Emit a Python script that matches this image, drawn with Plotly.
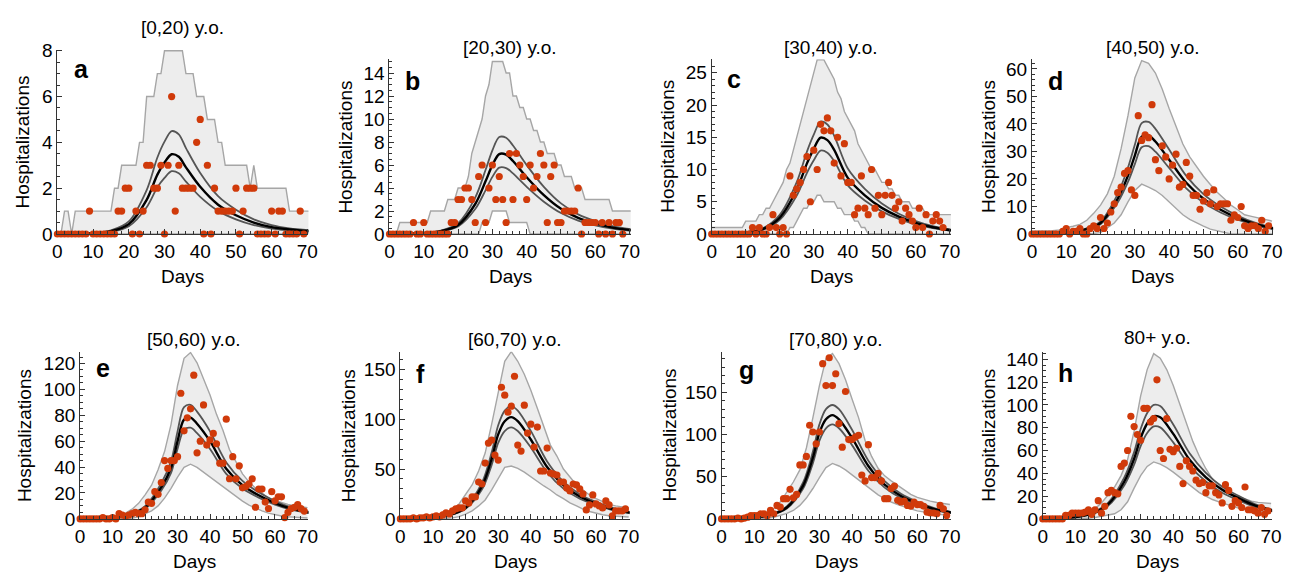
import plotly.graph_objects as go

# ---------------- data ----------------
DAYS = list(range(70))
BAND_DAYS_DAILY = list(range(72))
BAND_DAYS_EVEN = list(range(0, 71, 2))
CURVE_DAYS = [0, 5, 10, 15, 20, 25, 28, 30, 32, 34, 36, 40, 45, 50, 55, 60, 65, 71]

TITLES = ["[0,20) y.o.", "[20,30) y.o.", "[30,40) y.o.", "[40,50) y.o.",
          "[50,60) y.o.", "[60,70) y.o.", "[70,80) y.o.", "80+ y.o."]
LETTERS = ["a", "b", "c", "d", "e", "f", "g", "h"]
Y_TICK_STEP = [2, 2, 5, 10, 20, 50, 50, 20]
Y_MINOR_STEP = [0.5, 0.5, 1, 2, 5, 10, 10, 5]
Y_MAX = [8.05, 15.2, 27.1, 63.5, 129, 167.5, 198, 146.6]

# observed daily hospitalizations (days 0..69)
OBS_A = [0,0,0,0,0,0,0,0,0,1, 0,0,0,0,0,0,0,1,1,2, 2,0,1,0,1,3,3,2,2,3,
         0,3,6,1,3,2,2,2,2,4, 5,0,3,0,2,1,1,1,1,1, 2,0,1,2,2,2,0,0,0,0,
         1,0,1,1,0,0,0,0,1,0]
OBS_B = [0,0,0,0,0,0,0,1,0,0, 1,0,0,0,0,0,0,0,1,1, 3,3,4,4,3,1,5,6,1,4,
         6,3,5,3,1,7,3,7,6,5, 3,6,4,5,7,6,1,5,6,1, 1,2,2,2,2,4,0,1,1,1,
         1,0,1,0,1,0,1,1,0,None]
OBS_C = [0,0,0,0,0,0,0,0,0,0, 0,0,1,0,1,0,0,1,3,1, 0,1,0,9,6,7,8,10,12,5,
         13,10,17,16,18,16,11,15,9,14, 8,8,3,4,9,4,3,10,4,6, 3,6,8,6,4,5,2,4,3,2,
         1,4,1,3,0,2,3,2,1,None]
OBS_D = [0,0,0,0,0,0,0,0,0,1, 2,0,1,1,2,0,0,2,3,2, 6,2,4,8,11,15,17,22,23,16,
         14,43,34,36,35,47,27,23,32,28, 20,25,29,17,18,26,21,14,14,9,
         12,15,11,16,10,11,11,11,5,7, 6,10,3,2,3,3,2,5,1,3]
OBS_E = [0,0,0,0,0,0,0,1,0,0, 1,0,4,3,2,3,4,5,4,4, 7,13,12,21,19,28,45,39,45,45,
         48,97,68,78,85,111,51,60,88,57, 61,66,58,43,43,77,31,48,31,41,
         24,25,27,31,9,23,23,13,8,21, 14,17,17,1,5,8,9,11,8,6]
OBS_F = [0,0,0,0,1,0,1,1,2,1, 2,3,2,4,6,5,8,10,11,11, 18,16,22,22,37,35,56,76,79,64,
         59,132,124,107,113,143,74,68,114,86, 95,72,92,48,48,71,46,45,44,37,
         37,31,28,35,34,30,25,9,14,24, 15,13,11,18,14,3,8,8,8,10]
OBS_G = [0,0,0,0,0,1,0,1,2,4, 4,4,6,6,4,10,6,16,14,24, 24,35,25,29,64,64,74,111,103,89,
         103,184,158,191,158,172,113,85,151,94, 94,97,99,52,45,88,49,49,54,45,
         24,24,36,39,22,20,21,16,15,20, 17,17,15,8,7,7,6,16,12,4]
OBS_H = [0,0,0,0,0,0,0,3,3,5, 5,5,5,6,8,4,8,16,5,11, 23,25,23,22,46,49,60,90,81,74,
         69,97,97,85,88,122,60,53,88,61, 59,62,46,31,51,46,42,34,31,32,
         23,29,29,23,21,14,30,25,11,16, 14,10,28,8,8,7,5,10,4,7]

# prediction bands (daily for a-c, every second day for d-h)
A_UP = [0,0,1,1,0,1,1,1,1,1, 1,1,1,1,1,1,2,2,3,3, 3,3,3,4,4,6,6,6,7,7,
        8,8,8,8,8,8,7,7,7,6, 6,6,5,5,5,4,4,3,3,3, 3,3,3,3,2,3,2,2,2,2,
        2,2,2,2,2,1,1,1,1,1, 1,1]
A_LO = [0,0,0,0,0,0,0,0,0,0, 0,0,0,0,0,0,0,0,0,0, 0,0,0,0,0,0,0,0,0,0,
        0,0,0,0,0,0,0,0,0,0, 0,0,0,0,0,0,0,0,0,0, 0,0,0,0,0,0,0,0,0,0,
        0,0,0,0,0,0,0,0,0,0, 0,0]
B_UP = [0,0,0,1,1,1,1,1,1,1, 1,1,2,2,2,2,2,3,3,3, 4,4,4,5,7,8,9,10,12,13,
        15,15,15,15,14,14,12,12,11,11, 10,10,9,9,8,8,7,7,7,6, 6,5,5,5,4,4,4,3,3,3,
        3,3,3,3,3,2,2,2,2,2, 2,2]
B_LO = [0,0,0,0,0,0,0,0,0,0, 0,0,0,0,0,0,0,0,0,0, 0,0,0,0,0,0,0,1,1,1,
        2,2,2,2,2,1,1,1,1,1, 1,0,0,0,0,0,0,0,0,0, 0,0,0,0,0,0,0,0,0,0,
        0,0,0,0,0,0,0,0,0,0, 0,0]
C_UP = [1,1,1,1,1,1,1,1,1,1, 2,2,2,2,3,3,4,4,5,6, 7,8,10,11,13,15,17,19,21,23,
        25,27,27,27,26,25,24,22,21,19, 18,17,16,14,13,12,11,10,10,9,
        8,8,7,7,6,6,5,5,5,4, 4,4,4,3,3,3,3,3,3,3, 3,3]
C_LO = [0,0,0,0,0,0,0,0,0,0, 0,0,0,0,0,0,0,0,0,0, 0,0,0,1,1,2,3,4,4,5,
        5,6,6,5,5,5,5,4,4,3, 3,3,2,2,1,1,0,0,0,0, 0,0,0,0,0,0,0,0,0,0,
        0,0,0,0,0,0,0,0,0,0, 0,0]
D_UP = [1,1,1,1.2,1.5,2.3,2.8,3.5,5,7.5, 10.5,14.6,21,31,43,56.7,63,62,58.5,52.6,
        45.6,39,32.7,28,24.5,21,18,15.2,12.9,10.5, 8.8,7,6.4,5.8,5.3,4.7]
D_LO = [0,0,0,0,0,0,0,0,0,0.2, 0.5,2.3,4,7,11.7,15.8,18.1,17,15.8,14,
        11.7,9.4,7,5.3,4,2.9,1.8,1.2,0.6,0, 0,0,0,0,0,0]
E_UP = [1,1,1,1.5,1.8,2,3,4.5,7.5,12, 18.6,26,38,52,73,103,124,128.5,120.5,108,
        95.7,80.7,68.3,53.4,43.5,34.8,28.6,23.6,19.9,16.1, 14.2,12.4,11.2,10.2,9.4,8.7]
E_LO = [0,0,0,0,0,0,0,0.3,0.5,1.7, 3.7,6.2,10,16,23.6,32.3,39.8,42.2,39.8,36,
        32.3,28.6,24.8,21.1,17.4,13.7,10.7,8.2,6.2,4.5, 3.2,2.2,1.7,1.2,1,0.7]
F_UP = [1,1,1.2,1.5,1.8,2.3,3.5,5.5,9,15, 24,34,48,66,95,127,158,167.7,158,145,
        129,111,92,74,63,50,42,34,29,24, 20.3,17,14.5,13,12,11]
F_LO = [0,0,0,0,0,0,0,0.5,1,2.3, 4.8,8,13,19,29,40,51.6,53,50.6,46.8,
        42,37.7,33,29,24,20.3,16,13,9.7,7.4, 5.5,4.2,3.2,2.6,2.3,1.9]
G_UP = [1,1,1.5,2,2.8,3.8,5,7.5,12,20, 32,43.7,58,84,120,158,190,196,184,165,
        142,120,93,74,60,51,45,40,34,29, 25.4,22.8,21,19.4,18.2,17]
G_LO = [0,0,0,0,0,0,0,0.8,1.9,3.8, 6.5,10,16,24.7,36,49,60.8,65.7,62.7,58,
        52,45.6,40,34,28.5,24,20,17,14,11.8, 9.5,8,6.8,5.7,4.9,4.2]
H_UP = [1,1,1.2,1.5,1.9,2.3,3.5,5.5,9,14, 21,28,38,52,77,108,131,145,141,131,
        117,100,83,68,55,44,35,29.6,24.5,21.5, 19.5,17,15.5,14.5,14,13.5]
H_LO = [0,0,0,0,0,0,0,0.5,1.2,2.5, 3.5,4.5,8,15,27,38,46,50,48,45,
        41,36.5,32,27.5,23,20,17,15,13,11, 9.5,8.2,7.2,6.5,5.8,5.2]

# model fit: median and credible interval (at CURVE_DAYS)
A_MED = [.01,.02,.04,.12,.43,1.49,2.59,3.12,3.48,3.37,2.91,2.06,1.28,.82,.5,.3,.2,.12]
A_HI = [.01,.03,.05,.16,.55,1.92,3.34,4.03,4.49,4.35,3.75,2.66,1.65,1.06,.64,.39,.25,.16]
A_LOW = [.01,.02,.03,.09,.34,1.17,2.04,2.45,2.74,2.65,2.29,1.62,1.01,.64,.39,.24,.16,.09]
B_MED = [.02,.04,.08,.25,.78,2.61,4.58,5.99,6.95,6.9,6.35,4.94,3.38,2.19,1.41,.92,.56,.32]
B_HI = [.03,.05,.1,.3,.95,3.17,5.56,7.27,8.43,8.37,7.7,5.99,4.1,2.66,1.71,1.12,.68,.39]
B_LOW = [.02,.03,.07,.21,.65,2.17,3.8,4.97,5.77,5.73,5.27,4.1,2.81,1.82,1.17,.76,.46,.27]
C_MED = [.05,.08,.23,.75,2.55,6.9,10.95,13.2,14.93,14.55,13.05,8.7,6,4.05,2.7,1.73,1.05,.53]
C_HI = [.06,.09,.27,.88,2.98,8.05,12.78,15.4,17.42,16.98,15.23,10.15,7,4.73,3.15,2.02,1.23,.62]
C_LOW = [.04,.07,.2,.65,2.21,5.98,9.49,11.44,12.94,12.61,11.31,7.54,5.2,3.51,2.34,1.5,.91,.46]
D_MED = [.11,.18,.47,1.46,4.0,12.8,21.2,28.5,35.4,35.8,33.6,27,18.6,12.8,8.8,5.84,3.65,1.83]
D_HI = [.13,.21,.54,1.66,4.55,14.5,24.1,32.4,40.3,40.7,38.2,30.7,21.1,14.5,10,6.64,4.15,2.08]
D_LOW = [.1,.16,.42,1.3,3.56,11.4,18.9,25.4,31.5,31.9,29.9,24,16.6,11.4,7.83,5.2,3.25,1.63]
E_MED = [.2,.4,1.0,3.0,8.7,24.5,39.5,60,76.6,78.2,73.5,60,38.7,26,18.2,12.2,7.9,4.7]
E_HI = [.23,.45,1.13,3.4,9.8,27.6,44.5,67.6,86.3,88.1,82.8,67.6,43.6,29.3,20.5,13.8,8.9,5.3]
E_LOW = [.18,.36,.9,2.7,7.8,22,35.5,54,68.9,70.4,66.2,54,34.8,23.4,16.4,11,7.1,4.2]
F_MED = [.2,.5,1.3,3.9,11.2,32.6,60.2,84.7,97.9,102,97.9,79.6,52,33.7,22.4,15.3,9.9,5.9]
F_HI = [.22,.55,1.44,4.3,12.4,36.1,66.7,93.8,108.5,113,108.5,88.2,57.6,37.3,24.8,17,11,6.5]
F_LOW = [.18,.45,1.17,3.5,10.1,29.3,54.2,76.2,88.1,91.8,88.1,71.6,46.8,30.3,20.2,13.8,8.9,5.3]
G_MED = [.25,.6,1.6,4.7,13.5,39.4,72.6,102,118,123,118,96,62.7,40.6,27.1,18.5,11.9,7.1]
G_HI = [.28,.66,1.76,5.2,14.9,43.3,79.9,112,130,135,130,105.6,69,44.7,29.8,20.3,13.1,7.8]
G_LOW = [.23,.55,1.46,4.3,12.3,35.9,66.1,92.8,107.4,112,107.4,87.4,57,37,24.7,16.8,10.8,6.5]
H_MED = [.27,.55,1.55,4.55,12.7,32.8,52.8,71,83.7,90.1,89.2,74.6,51.9,36.4,25.5,18.2,11.8,6.8]
H_HI = [.3,.61,1.72,5.05,14.1,36.4,58.6,78.8,92.9,100,99,82.8,57.6,40.4,28.3,20.2,13.1,7.5]
H_LOW = [.24,.5,1.4,4.1,11.4,29.5,47.5,63.9,75.3,81.1,80.3,67.1,46.7,32.8,23,16.4,10.6,6.1]

OBS = [OBS_A, OBS_B, OBS_C, OBS_D, OBS_E, OBS_F, OBS_G, OBS_H]
BAND_X = [BAND_DAYS_DAILY] * 3 + [BAND_DAYS_EVEN] * 5
BAND_UP = [A_UP, B_UP, C_UP, D_UP, E_UP, F_UP, G_UP, H_UP]
BAND_LO = [A_LO, B_LO, C_LO, D_LO, E_LO, F_LO, G_LO, H_LO]
MED = [A_MED, B_MED, C_MED, D_MED, E_MED, F_MED, G_MED, H_MED]
HI = [A_HI, B_HI, C_HI, D_HI, E_HI, F_HI, G_HI, H_HI]
LOW = [A_LOW, B_LOW, C_LOW, D_LOW, E_LOW, F_LOW, G_LOW, H_LOW]

# ---------------- layout (pixels) ----------------
W, H = 1290, 583
RECTS = [(53, 42, 307, 233), (389, 52, 633, 233), (715, 52, 957, 233), (1039, 52, 1283, 233),
         (76, 355, 307, 528), (400, 355, 632, 528), (725, 355, 957, 528), (1050, 355, 1282, 528)]
TITLE_Y = [19, 40, 40, 40, 342, 342, 342, 340]
LETTER_POS = [(77, 62), (412, 75), (738, 72), (1063, 75), (99, 372), (420, 378), (750, 374), (1073, 377)]
YLAB_X = [18, 345, 670, 995, 20, 347, 672, 995]

FONT = "Liberation Sans, Arial, sans-serif"
TXT = 19
BAND_FILL = "#ededed"
BAND_EDGE = "#a6a6a6"
CI_COLOR = "#555555"
DOT_COLOR = "#d03a0a"


def px(x):
    return x / W


def py(y):
    return 1 - y / H


fig = go.Figure()
annotations = []
layout_axes = {}

for i in range(8):
    n = i + 1
    xa = "x" if n == 1 else f"x{n}"
    ya = "y" if n == 1 else f"y{n}"
    common = dict(xaxis=xa, yaxis=ya, showlegend=False, hoverinfo="skip")
    fig.add_trace(go.Scatter(x=BAND_X[i], y=BAND_LO[i], mode="lines",
                             line=dict(color=BAND_EDGE, width=1.4), **common))
    fig.add_trace(go.Scatter(x=BAND_X[i], y=BAND_UP[i], mode="lines", fill="tonexty",
                             fillcolor=BAND_FILL, line=dict(color=BAND_EDGE, width=1.4), **common))
    for curve, col, w in [(HI[i], CI_COLOR, 1.8), (LOW[i], CI_COLOR, 1.8), (MED[i], "#000000", 2.4)]:
        fig.add_trace(go.Scatter(x=CURVE_DAYS, y=curve, mode="lines",
                                 line=dict(color=col, width=w, shape="spline", smoothing=0.9), **common))
    fig.add_trace(go.Scatter(x=DAYS, y=OBS[i], mode="markers", cliponaxis=False,
                             marker=dict(color=DOT_COLOR, size=7.2, line=dict(width=0)), **common))

    l, t, r, b = RECTS[i]
    axis_common = dict(showline=True, linecolor="#333333", linewidth=1, showgrid=False, zeroline=False,
                       ticks="inside", ticklen=5, tickwidth=1, tickcolor="#333333",
                       tickfont=dict(family=FONT, size=TXT, color="#000000"))
    layout_axes["xaxis" if n == 1 else f"xaxis{n}"] = dict(
        domain=[px(l), px(r)], anchor=ya, range=[0, 70.3], tick0=0, dtick=10,
        minor=dict(ticks="inside", dtick=2, ticklen=3, tickcolor="#333333", showgrid=False),
        **axis_common)
    layout_axes["yaxis" if n == 1 else f"yaxis{n}"] = dict(
        domain=[py(b), py(t)], anchor=xa, range=[0, Y_MAX[i]], tick0=0, dtick=Y_TICK_STEP[i],
        minor=dict(ticks="inside", dtick=Y_MINOR_STEP[i], ticklen=3, tickcolor="#333333", showgrid=False),
        **axis_common)

    cx = (l + r) / 2
    annotations.append(dict(text=TITLES[i], x=px(cx), y=py(TITLE_Y[i]), xref="paper", yref="paper",
                            showarrow=False, xanchor="center", yanchor="middle",
                            font=dict(family=FONT, size=TXT, color="#000000")))
    annotations.append(dict(text="<b>" + LETTERS[i] + "</b>", x=px(LETTER_POS[i][0]), y=py(LETTER_POS[i][1]),
                            xref="paper", yref="paper", showarrow=False, xanchor="center", yanchor="middle",
                            font=dict(family=FONT, size=25, color="#000000")))
    annotations.append(dict(text="Days", x=px(cx), y=py(b + 44), xref="paper", yref="paper",
                            showarrow=False, xanchor="center", yanchor="middle",
                            font=dict(family=FONT, size=TXT, color="#000000")))
    annotations.append(dict(text="Hospitalizations", x=px(YLAB_X[i]), y=py((t + b) / 2), xref="paper",
                            yref="paper", showarrow=False, xanchor="center", yanchor="middle", textangle=-90,
                            font=dict(family=FONT, size=TXT, color="#000000")))

fig.update_layout(width=W, height=H, margin=dict(l=0, r=0, t=0, b=0),
                  paper_bgcolor="white", plot_bgcolor="white",
                  annotations=annotations, **layout_axes)

fig.write_html("out.html", config={"displayModeBar": False})
